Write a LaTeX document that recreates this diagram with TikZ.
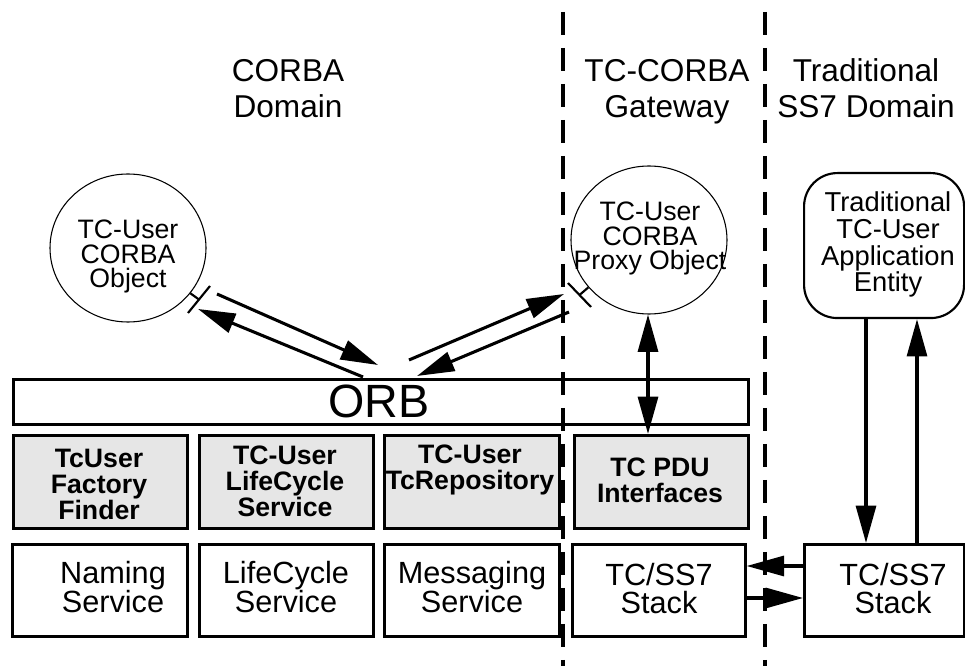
\documentclass[tikz,border=0pt]{standalone}
\usepackage{fontspec}
\setmainfont{Liberation Sans}
\usetikzlibrary{arrows.meta,shapes.geometric,calc}
\definecolor{boxgray}{HTML}{E6E6E6}
\begin{document}
\begin{tikzpicture}[x=0.75pt,y=-0.75pt,
  heading/.style={font=\fontsize{23.7}{27.7}\selectfont, align=center, anchor=base, inner sep=0},
  objtext/.style={font=\fontsize{20}{18.7}\selectfont, align=center, anchor=base, inner sep=0},
  apptext/.style={font=\fontsize{20.5}{20}\selectfont, align=center, anchor=base, inner sep=0},
  graytext/.style={font=\bfseries\fontsize{20}{19.7}\selectfont, align=center, anchor=base, inner sep=0},
  svctext/.style={font=\fontsize{23}{15.5}\selectfont, align=center, anchor=base, inner sep=0},
  stacktext/.style={font=\fontsize{23}{21}\selectfont, align=center, anchor=base, inner sep=0},
  obj/.style={ellipse, draw, line width=0.8pt, minimum width=117pt, minimum height=111pt, inner sep=0},
  boxn/.style={draw, line width=2pt, inner sep=0, anchor=north west},
  graybox/.style={boxn, fill=boxgray, minimum height=69.75pt},
  whitebox/.style={boxn, minimum height=69pt},
  divider/.style={line width=2.6pt, dash pattern=on 17pt off 10pt},
  conn/.style={line width=2.3pt, -{Triangle[length=28pt,width=15pt]}},
  dconn/.style={line width=2.3pt, {Triangle[length=28pt,width=15pt]}-{Triangle[length=28pt,width=15pt]}},
  tee/.style={line width=1.6pt}
]
\useasboundingbox (0,0) rectangle (965,666);

% dividers
\draw[divider] (563,12) -- (563,666);
\draw[divider] (765,12) -- (765,666);

% headings (anchor = baseline of last line)
\node[heading] (h1) at (288,118) {CORBA\\Domain};
\node[heading] (h2) at (667,118) {TC-CORBA\\Gateway};
\node[heading] (h3) at (866,118) {Traditional\\SS7 Domain};

% objects
\node[obj] (c1) at (128,248) {};
\node[objtext] (c1t) at (128,288) {TC-User\\CORBA\\Object};
\node[obj] (c2) at (649,240) {};
\node[objtext] (c2t) at (650,270) {TC-User\\CORBA\\Proxy Object};
\node[boxn, line width=1.6pt, rounded corners=25pt, minimum width=120pt, minimum height=108.75pt] (rb) at (803,172) {};
\node[apptext] (rbt) at (888,292) {Traditional\\TC-User\\Application\\Entity};

% ORB
\node[boxn, minimum width=551.25pt, minimum height=33.75pt] (orb) at (12,378) {};
\node[font=\fontsize{35}{40}\selectfont, anchor=base, inner sep=0] (orbt) at (379,418) {ORB};

% gray boxes
\node[graybox, minimum width=130.5pt] (g1) at (12,434) {};
\node[graybox, minimum width=130.5pt] (g2) at (198,434) {};
\node[graybox, minimum width=131.25pt] (g3) at (383,434) {};
\node[graybox, minimum width=130.5pt] (g4) at (573,434) {};
\node[graytext] (g1t) at (99,520) {TcUser\\Factory\\Finder};
\node[graytext] (g2t) at (285,517) {TC-User\\LifeCycle\\Service};
\node[graytext] (g3t) at (470,490) {TC-User\\TcRepository};
\node[graytext] (g4t) at (660,503) {TC PDU\\Interfaces};

% white boxes
\node[whitebox, minimum width=131.25pt] (w1) at (11,543) {};
\node[whitebox, minimum width=130.5pt] (w2) at (198,543) {};
\node[whitebox, minimum width=131.25pt] (w3) at (383,543) {};
\node[whitebox, minimum width=129.75pt] (w4) at (571,543) {};
\node[whitebox, minimum width=120pt] (w5) at (803,543) {};
\node[svctext] (w1t) at (113,613) {Naming\\Service};
\node[svctext] (w2t) at (286,613) {LifeCycle\\Service};
\node[svctext] (w3t) at (472,613) {Messaging\\Service};
\node[stacktext] (w4t) at (659,614) {TC/SS7\\Stack};
\node[stacktext] (w5t) at (893,614) {TC/SS7\\Stack};

% interface tees
\coordinate (t1a) at (210,286);
\coordinate (t1b) at (188,313);
\coordinate (t1m) at ($(t1a)!0.5!(t1b)$);
\draw[tee] (t1a) -- (t1b);
\draw[tee] (c1.-36) -- (t1m);
\coordinate (t2a) at (568,283);
\coordinate (t2b) at (591,307);
\coordinate (t2m) at ($(t2a)!0.5!(t2b)$);
\draw[tee] (t2a) -- (t2b);
\draw[tee] (c2.218) -- (t2m);

% diagonal arrows
\coordinate (a1s) at (217,294); \coordinate (a1e) at (378,365);
\coordinate (a2s) at (363,377); \coordinate (a2e) at (198,309);
\coordinate (a3s) at (409,360); \coordinate (a3e) at (564,294);
\coordinate (a4s) at (569,312); \coordinate (a4e) at (417,376);
\draw[conn] (a1s) -- (a1e);
\draw[conn] (a2s) -- (a2e);
\draw[conn] (a3s) -- (a3e);
\draw[conn] (a4s) -- (a4e);

% vertical arrows
\coordinate (v1) at (648,0);
\draw[dconn] (c2.south -| v1) -- (g4.north -| v1);
\coordinate (v2) at (866,0);
\coordinate (v3) at (917,0);
\draw[conn] (rb.south -| v2) -- (w5.north -| v2);
\draw[conn] (w5.north -| v3) -- (rb.south -| v3);

% horizontal arrows
\coordinate (hz1) at (0,566);
\coordinate (hz2) at (0,598);
\draw[conn] (w5.west |- hz1) -- (w4.east |- hz1);
\draw[conn] (w4.east |- hz2) -- (w5.west |- hz2);
\end{tikzpicture}
\end{document}
